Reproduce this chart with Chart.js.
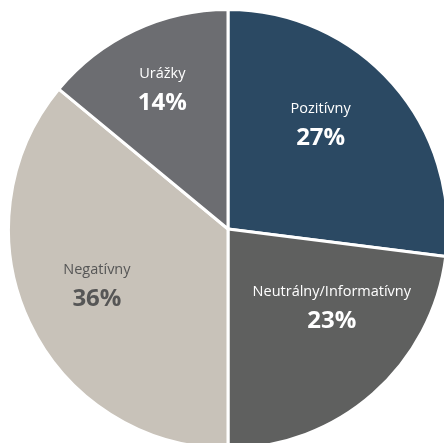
<!DOCTYPE html>
<html>
<head>
<meta charset="utf-8">
<script src="https://cdn.jsdelivr.net/npm/chart.js@4"></script>
<style>
  html, body { margin: 0; padding: 0; background: #fff; overflow: hidden; width: 444px; height: 443px; }
  #wrap { position: absolute; left: 7px; top: 8px; }
</style>
</head>
<body>
<div id="wrap"><canvas id="pieChart" width="442" height="442"></canvas></div>
<script>
var categories = ['Pozitívny', 'Neutrálny/Informatívny', 'Negatívny', 'Urážky'];
var shares = [27, 23, 36, 14];
var sliceColors = ['#2b4963', '#5f605f', '#c8c2b9', '#6c6d71'];
var textColors = ['#ffffff', '#ffffff', '#565656', '#ffffff'];
// small nudges so labels sit where the original has them
var labelRadius = 0.66;
var labelNudge = [[-16, -10], [8, -32], [0, -7], [-4, -10]];

var pieLabels = {
    id: 'pieLabels',
    afterDatasetsDraw: function(chart) {
        var ctx = chart.ctx;
        var meta = chart.getDatasetMeta(0);
        meta.data.forEach(function(arc, i) {
            var mid = (arc.startAngle + arc.endAngle) / 2;
            var r = arc.outerRadius * labelRadius;
            var x = arc.x + Math.cos(mid) * r + labelNudge[i][0];
            var y = arc.y + Math.sin(mid) * r + labelNudge[i][1];
            ctx.save();
            ctx.textAlign = 'center';
            ctx.textBaseline = 'middle';
            ctx.fillStyle = textColors[i];
            ctx.font = '14.5px "Open Sans"';
            ctx.fillText(categories[i], x, y - 14);
            ctx.font = 'bold 24px "Open Sans"';
            ctx.fillText(shares[i] + '%', x, y + 15);
            ctx.restore();
        });
    }
};

var ctxPie = document.getElementById('pieChart').getContext('2d');
var pieChart = new Chart(ctxPie, {
    type: 'pie',
    data: {
        labels: categories,
        datasets: [{
            data: shares,
            backgroundColor: sliceColors,
            borderColor: '#ffffff',
            borderWidth: 3
        }]
    },
    options: {
        responsive: false,
        animation: false,
        layout: { padding: 0 },
        plugins: {
            legend: { display: false },
            tooltip: { enabled: false }
        }
    },
    plugins: [pieLabels]
});
</script>
</body>
</html>
